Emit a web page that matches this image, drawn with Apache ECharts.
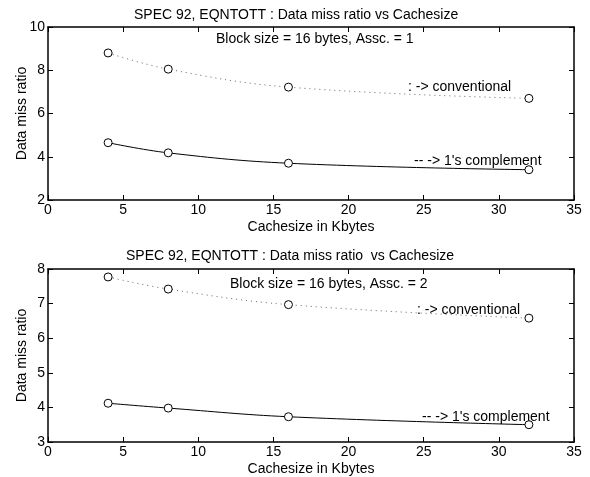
<!DOCTYPE html>
<html>
<head>
<meta charset="utf-8">
<script src="https://cdn.jsdelivr.net/npm/echarts@6/dist/echarts.min.js"></script>
<style>
  html, body { margin: 0; padding: 0; background: #fff; }
  #chart { width: 590px; height: 477px; }
</style>
</head>
<body>
<div id="chart"></div>
<script>
// cache sizes (Kbytes)
var cacheSizes = [4, 8, 16, 32];

// Assc. = 1
var conv1 = [8.8, 8.05, 7.22, 6.7];
var comp1 = [4.65, 4.18, 3.7, 3.4];

// Assc. = 2
var conv2 = [7.77, 7.42, 6.97, 6.58];
var comp2 = [4.12, 3.98, 3.73, 3.5];

var xTicks = [0, 5, 10, 15, 20, 25, 30, 35];

var chart = echarts.init(document.getElementById('chart'));
var font = 'Liberation Sans, Arial, sans-serif';

function pairs(ys) {
  return cacheSizes.map(function (x, i) { return [x, ys[i]]; });
}

function xAx(gi, top) {
  return {
    type: 'value', gridIndex: gi, min: xTicks[0], max: xTicks[xTicks.length - 1], interval: 5,
    position: top ? 'top' : 'bottom',
    name: top ? '' : 'Cachesize in Kbytes', nameLocation: 'middle', nameGap: 20,
    nameMoveOverlap: false,
    nameTextStyle: { color: '#000', fontSize: 14, fontFamily: font },
    axisLine: { show: true, onZero: false, lineStyle: { color: '#000', width: 1.5 } },
    axisTick: { show: true, inside: true, length: 5, lineStyle: { color: '#000' } },
    axisLabel: { show: !top, color: '#000', fontSize: 14, fontFamily: font, margin: 3 },
    splitLine: { show: false }
  };
}

function yAx(gi, min, max, step, right) {
  return {
    type: 'value', gridIndex: gi, min: min, max: max, interval: step,
    position: right ? 'right' : 'left',
    name: right ? '' : 'Data miss ratio', nameLocation: 'middle', nameGap: 19,
    nameMoveOverlap: false,
    nameTextStyle: { color: '#000', fontSize: 14, fontFamily: font },
    axisLine: { show: true, onZero: false, lineStyle: { color: '#000', width: 1.5 } },
    axisTick: { show: true, inside: true, length: 5, lineStyle: { color: '#000' } },
    axisLabel: { show: !right, color: '#000', fontSize: 14, fontFamily: font, margin: 3 },
    splitLine: { show: false }
  };
}

function lineSeries(xi, yi, data, dotted) {
  return {
    type: 'line', xAxisIndex: xi, yAxisIndex: yi, data: pairs(data),
    smooth: 0.4, symbol: 'circle', symbolSize: 8, showSymbol: true,
    lineStyle: { color: dotted ? '#666' : '#000', width: 1, type: dotted ? [1, 4] : 'solid' },
    itemStyle: { color: '#fff', borderColor: '#000', borderWidth: 1 },
    z: 3
  };
}

function txt(left, top, s) {
  return { type: 'text', left: left, top: top,
    style: { text: s, fill: '#000', font: '14px ' + font } };
}

var grid = { containLabel: false, outerBoundsMode: 'none', left: 48, right: 16, height: 173 };

chart.setOption({
  backgroundColor: '#fff',
  animation: false,
  title: [
    { text: 'SPEC 92, EQNTOTT : Data miss ratio vs Cachesize', left: 129, top: 3,
      textStyle: { fontSize: 14, fontWeight: 'normal', color: '#000', fontFamily: font } },
    { text: 'SPEC 92, EQNTOTT : Data miss ratio  vs Cachesize', left: 121, top: 244,
      textStyle: { fontSize: 14, fontWeight: 'normal', color: '#000', fontFamily: font } }
  ],
  grid: [
    Object.assign({}, grid, { top: 27 }),
    Object.assign({}, grid, { top: 269 })
  ],
  xAxis: [xAx(0, false), xAx(0, true), xAx(1, false), xAx(1, true)],
  yAxis: [yAx(0, 2, 10, 2, false), yAx(0, 2, 10, 2, true), yAx(1, 3, 8, 1, false), yAx(1, 3, 8, 1, true)],
  series: [
    lineSeries(0, 0, conv1, true),
    lineSeries(0, 0, comp1, false),
    lineSeries(2, 2, conv2, true),
    lineSeries(2, 2, comp2, false)
  ],
  graphic: [
    txt(216, 32, 'Block size = 16 bytes, Assc. = 1'),
    txt(408, 80, ': -> conventional'),
    txt(414, 154, '-- -> 1\'s complement'),
    txt(230, 277, 'Block size = 16 bytes, Assc. = 2'),
    txt(417, 303, ': -> conventional'),
    txt(422, 410, '-- -> 1\'s complement')
  ]
});
</script>
</body>
</html>
